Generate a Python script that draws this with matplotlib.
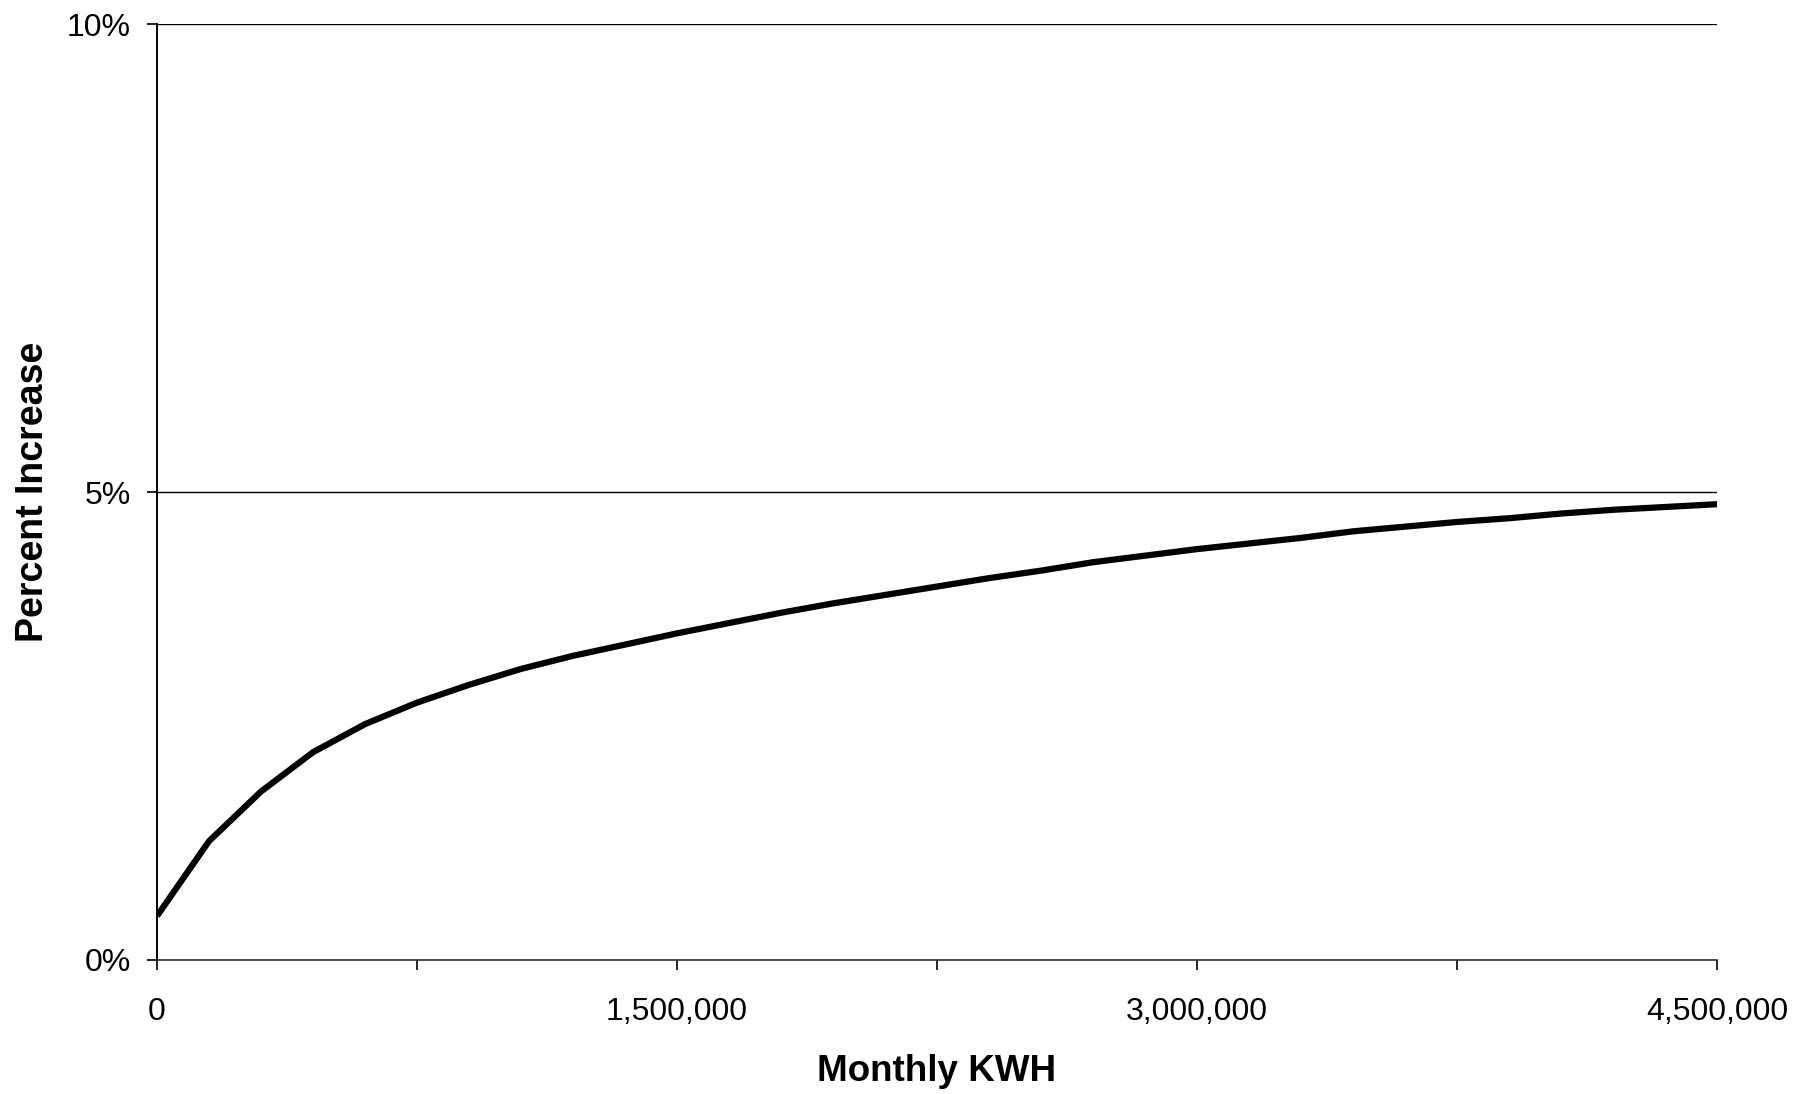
import matplotlib
matplotlib.use("Agg")
import matplotlib.pyplot as plt
from matplotlib.ticker import FixedLocator, FuncFormatter

plt.rcParams['font.family'] = ['Liberation Sans', 'DejaVu Sans']

# Data (Monthly KWH vs percent increase)
kwh = [0, 150000, 300000, 450000, 600000, 750000, 900000, 1050000, 1200000,
       1350000, 1500000, 1650000, 1800000, 1950000, 2100000, 2250000, 2400000,
       2550000, 2700000, 2850000, 3000000, 3150000, 3300000, 3450000, 3600000,
       3750000, 3900000, 4050000, 4200000, 4350000, 4500000]
pct_increase = [0.47, 1.27, 1.80, 2.22, 2.52, 2.75, 2.94, 3.11, 3.25,
                3.37, 3.49, 3.60, 3.71, 3.81, 3.90, 3.99, 4.08,
                4.16, 4.25, 4.32, 4.39, 4.45, 4.51, 4.58, 4.63,
                4.68, 4.72, 4.77, 4.81, 4.84, 4.87]

x_major = [0, 1500000, 3000000, 4500000]
x_minor = [750000, 2250000, 3750000]
y_ticks = [0, 5, 10]

fig = plt.figure(figsize=(18.07, 10.94), dpi=100)
ax = fig.add_axes([0.0869, 0.1225, 0.8633, 0.8555])

ax.plot(kwh, pct_increase, color='black', lw=4.5, solid_capstyle='butt', zorder=3)

ax.set_xlim(0, 4500000)
ax.set_ylim(0, 10)

ax.xaxis.set_major_locator(FixedLocator(x_major))
ax.xaxis.set_minor_locator(FixedLocator(x_minor))
ax.xaxis.set_major_formatter(FuncFormatter(lambda v, p: f"{int(v):,}"))
ax.yaxis.set_major_locator(FixedLocator(y_ticks))
ax.yaxis.set_major_formatter(FuncFormatter(lambda v, p: f"{int(v)}%"))

ax.tick_params(axis='x', which='both', direction='out', length=7, width=1.2,
               labelsize=23, pad=20, color='black')
ax.tick_params(axis='y', which='major', direction='out', length=7, width=1.2,
               labelsize=23, pad=12, color='black')

ax.yaxis.grid(True, color='black', lw=1.0)
ax.set_axisbelow(True)

for s in ['top', 'right']:
    ax.spines[s].set_visible(False)
ax.spines['left'].set_linewidth(1.4)
ax.spines['bottom'].set_linewidth(1.2)
ax.spines['bottom'].set_color('#333333')

ax.set_xlabel('Monthly KWH', fontsize=26.5, fontweight='bold', labelpad=19)
ax.set_ylabel('Percent Increase', fontsize=27, fontweight='bold', labelpad=11)

fig.savefig('out.png', dpi=100, facecolor='white')
